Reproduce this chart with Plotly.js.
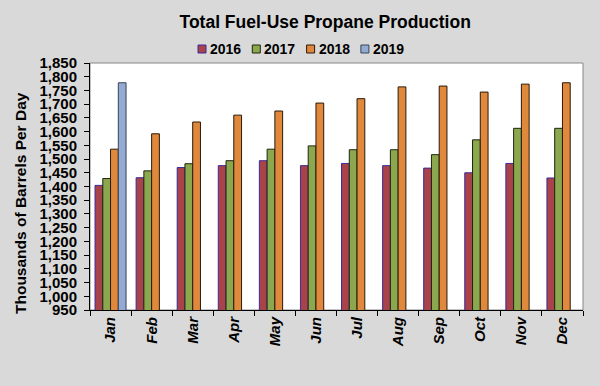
<!DOCTYPE html>
<html>
<head>
<meta charset="utf-8">
<script src="https://cdn.plot.ly/plotly-3.0.1.min.js"></script>
<style>html,body{margin:0;padding:0;background:#D9D9D9;}#chart{width:600px;height:386px;}</style>
</head>
<body>
<div id="chart"></div>
<script>
var months = ['Jan','Feb','Mar','Apr','May','Jun','Jul','Aug','Sep','Oct','Nov','Dec'];
var years = ['2016','2017','2018','2019'];
var y2016 = [1404,1432,1469,1476,1494,1476,1484,1476,1467,1450,1484,1431];
var y2017 = [1429,1457,1483,1494,1536,1548,1534,1534,1516,1570,1612,1612];
var y2018 = [1536,1592,1635,1660,1675,1704,1720,1763,1766,1744,1773,1778];
var y2019 = [1778];
var yTickVals = [950,1000,1050,1100,1150,1200,1250,1300,1350,1400,1450,1500,1550,1600,1650,1700,1750,1800,1850];

var FONT = 'Liberation Sans, Arial, sans-serif';
var fills = ['#A8434A','#8CA84E','#E0893D','#93AAD2'];
var edges = ['#3B2A9A','#1E2410','#2A1A0A','#3A4456'];

// plot-area geometry (pixels) used to place the hand-made legend
var M = {l:90, r:17, t:63, b:76}, W = 600, H = 386;
var pw = W - M.l - M.r, ph = H - M.t - M.b;
function px(x){ return (x - M.l) / pw; }
function py(y){ return (H - M.b - y) / ph; }

function tr(i, x, y) {
  return {type:'bar', name:years[i], x:x, y:y, showlegend:false,
    marker:{color:fills[i], line:{color:edges[i], width:1}}};
}
var data = [
  tr(0, months, y2016),
  tr(1, months, y2017),
  tr(2, months, y2018),
  tr(3, months.slice(0,1), y2019)
];

var shapes = [{type:'rect', xref:'paper', yref:'paper', x0:0, x1:1, y0:0, y1:1,
    line:{color:'#888888', width:1}, layer:'below'}];
var annotations = [];
for (var i = 0; i < years.length; i++) {
  var x0 = 198 + i * 54.3;
  shapes.push({type:'rect', xref:'paper', yref:'paper',
    x0:px(x0), x1:px(x0 + 8), y0:py(53), y1:py(45),
    fillcolor:fills[i], line:{color:edges[i], width:1}});
  annotations.push({xref:'paper', yref:'paper', x:px(x0 + 10), y:py(49),
    xanchor:'left', yanchor:'middle', showarrow:false, text:years[i],
    font:{family:FONT, size:14, weight:'bold', color:'#000'}});
}
annotations.push({xref:'paper', yref:'paper', x:px(20), y:py(203),
  xanchor:'center', yanchor:'middle', showarrow:false, textangle:-90,
  text:'Thousands of Barrels Per Day',
  font:{family:FONT, size:15.5, weight:'bold', color:'#000'}});

var layout = {
  width:W, height:H,
  paper_bgcolor:'#D9D9D9', plot_bgcolor:'#FFFFFF',
  margin:M,
  font:{family:FONT, color:'#000'},
  title:{text:'Total Fuel-Use Propane Production', x:0.542, xanchor:'center', y:0.943, yanchor:'middle',
    font:{family:FONT, size:17.5, weight:'bold', color:'#000'}},
  barmode:'group', bargap:0.245, bargroupgap:0,
  showlegend:false,
  xaxis:{type:'category', categoryorder:'array', categoryarray:months,
    tickson:'boundaries', ticks:'outside', ticklen:5, tickcolor:'#000', tickwidth:1,
    tickangle:-90, tickfont:{family:FONT, size:15, weight:'bold', style:'italic', color:'#000'},
    showline:true, linecolor:'#000', linewidth:1, showgrid:false, zeroline:false, mirror:false},
  yaxis:{range:[950,1850], tickvals:yTickVals, tickformat:',d',
    ticks:'outside', ticklen:5, tickcolor:'#000', tickwidth:1, ticklabelstandoff:4,
    tickfont:{family:FONT, size:15, weight:'bold', color:'#000'},
    showline:true, linecolor:'#000', linewidth:1, showgrid:false, zeroline:false},
  shapes:shapes,
  annotations:annotations
};
Plotly.newPlot('chart', data, layout, {displayModeBar:false, staticPlot:true});
</script>
</body>
</html>
